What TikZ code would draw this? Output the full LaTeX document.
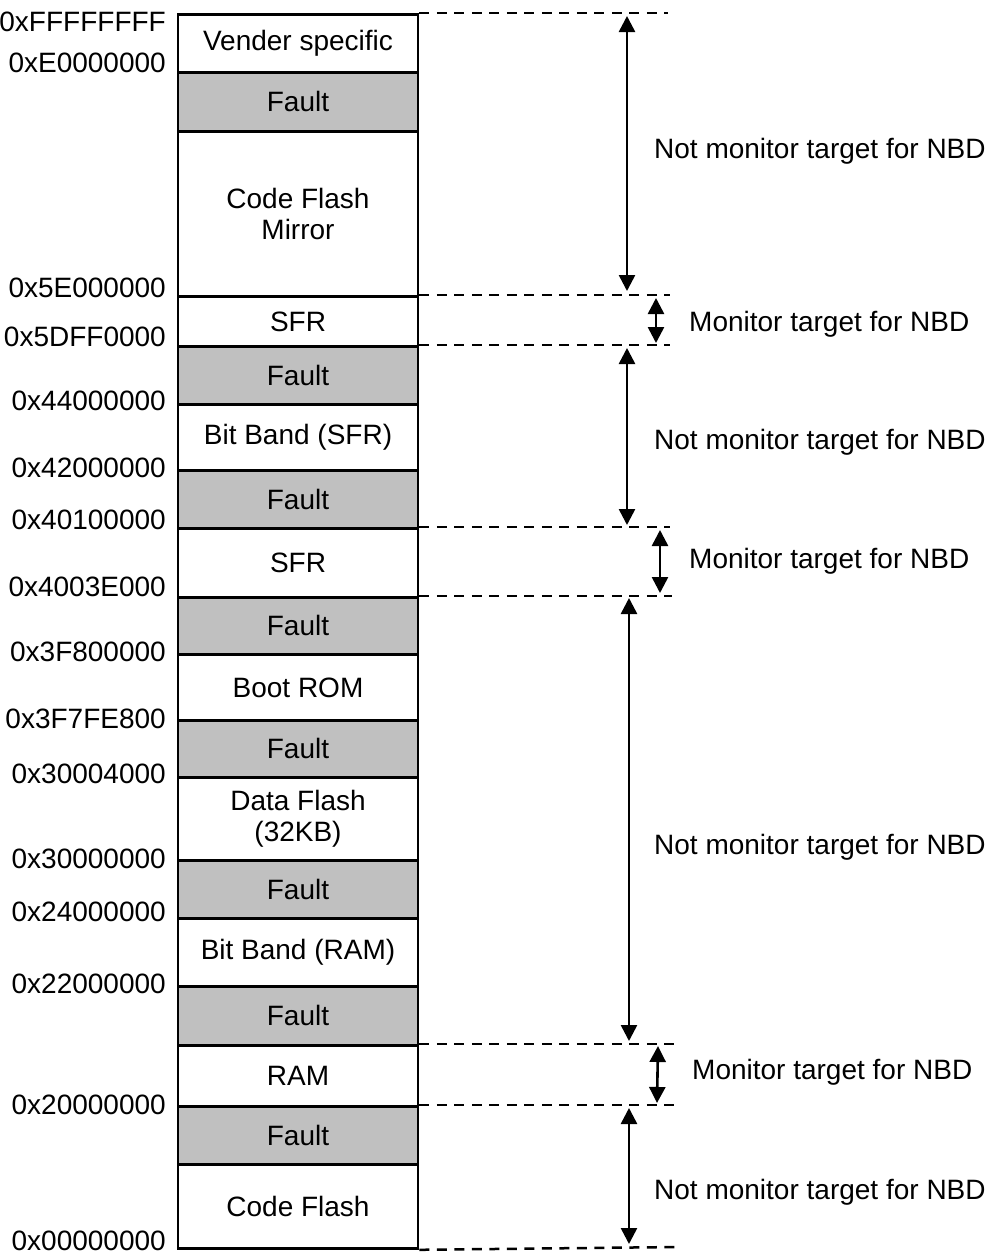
\documentclass[tikz,border=0pt]{standalone}
\usepackage{fontspec}
\setmainfont{Liberation Sans}
\usetikzlibrary{arrows.meta}
\definecolor{faultgray}{HTML}{C0C0C0}
\begin{document}
\begin{tikzpicture}[x=1pt,y=-1pt,
  txt/.style={font=\fontsize{28}{31.5}\selectfont},
  cell/.style={txt, draw=black, line width=2.8pt, minimum width=240pt, inner sep=0pt, align=center, anchor=north, fill=white},
  fault/.style={cell, fill=faultgray},
  addr/.style={txt, anchor=east, inner sep=0pt},
  guide/.style={line width=2.5pt, dash pattern=on 10pt off 7.5pt},
  span/.style={line width=2.6pt, {Triangle[length=16pt,width=16pt]}-{Triangle[length=16pt,width=16pt]}},
  note/.style={txt, anchor=west, inner sep=0pt}]
\useasboundingbox (0,0) rectangle (990,1254);

% memory cells
\node[cell,  minimum height=58pt]  (c1)  at (298,13)   {Vender specific};
\node[fault, minimum height=59pt]  (c2)  at (298,71)   {Fault};
\node[cell,  minimum height=165pt] (c3)  at (298,130)  {Code Flash\\Mirror};
\node[cell,  minimum height=50pt]  (c4)  at (298,295)  {SFR};
\node[fault, minimum height=58pt]  (c5)  at (298,345)  {Fault};
\node[cell,  minimum height=66pt]  (c6)  at (298,403)  {Bit Band (SFR)};
\node[fault, minimum height=58pt]  (c7)  at (298,469)  {Fault};
\node[cell,  minimum height=69pt]  (c8)  at (298,527)  {SFR};
\node[fault, minimum height=57pt]  (c9)  at (298,596)  {Fault};
\node[cell,  minimum height=66pt]  (c10) at (298,653)  {Boot ROM};
\node[fault, minimum height=57pt]  (c11) at (298,719)  {Fault};
\node[cell,  minimum height=83pt]  (c12) at (298,776)  {Data Flash\\(32KB)};
\node[fault, minimum height=58pt]  (c13) at (298,859)  {Fault};
\node[cell,  minimum height=68pt]  (c14) at (298,917)  {Bit Band (RAM)};
\node[fault, minimum height=59pt]  (c15) at (298,985)  {Fault};
\node[cell,  minimum height=61pt]  (c16) at (298,1044) {RAM};
\node[fault, minimum height=58pt]  (c17) at (298,1105) {Fault};
\node[cell,  minimum height=84pt]  (c18) at (298,1163) {Code Flash};

% addresses
\node[addr] (a1)  at (166,22)   {0xFFFFFFFF};
\node[addr] (a2)  at (166,63)   {0xE0000000};
\node[addr] (a3)  at (166,288)  {0x5E000000};
\node[addr] (a4)  at (166,337)  {0x5DFF0000};
\node[addr] (a5)  at (166,401)  {0x44000000};
\node[addr] (a6)  at (166,468)  {0x42000000};
\node[addr] (a7)  at (166,520)  {0x40100000};
\node[addr] (a8)  at (166,587)  {0x4003E000};
\node[addr] (a9)  at (166,652)  {0x3F800000};
\node[addr] (a10) at (166,719)  {0x3F7FE800};
\node[addr] (a11) at (166,774)  {0x30004000};
\node[addr] (a12) at (166,859)  {0x30000000};
\node[addr] (a13) at (166,912)  {0x24000000};
\node[addr] (a14) at (166,984)  {0x22000000};
\node[addr] (a15) at (166,1105) {0x20000000};
\node[addr] (a16) at (166,1241) {0x00000000};

% dashed guides
\coordinate (g1) at (668,13);
\coordinate (g2) at (670,295);
\coordinate (g3) at (670,345);
\coordinate (g4) at (670,527);
\coordinate (g5) at (672,596);
\coordinate (g6) at (674,1044);
\coordinate (g7) at (678,1105);
\coordinate (g8) at (678,1247);
\draw[guide] (c1.north east) -- (g1);
\draw[guide] (c4.north east) -- (g2);
\draw[guide] (c5.north east) -- (g3);
\draw[guide] (c8.north east) -- (g4);
\draw[guide] (c9.north east) -- (g5);
\draw[guide] (c16.north east) -- (g6);
\draw[guide] (c17.north east) -- (g7);
\draw[guide] (c18.south east) -- (g8);

% span arrows
\coordinate (s1a) at (627,16);   \coordinate (s1b) at (627,291);
\coordinate (s2a) at (656,298);  \coordinate (s2b) at (656,343);
\coordinate (s3a) at (627,348);  \coordinate (s3b) at (627,525);
\coordinate (s4a) at (660,530);  \coordinate (s4b) at (660,593);
\coordinate (s5a) at (629,598);  \coordinate (s5b) at (629,1041);
\coordinate (s6a) at (658,1046); \coordinate (s6b) at (657,1103);
\coordinate (s7a) at (629,1108); \coordinate (s7b) at (629,1244);
\draw[span] (s1a) -- (s1b);
\draw[span] (s2a) -- (s2b);
\draw[span] (s3a) -- (s3b);
\draw[span] (s4a) -- (s4b);
\draw[span] (s5a) -- (s5b);
\draw[span] (s6a) -- (s6b);
\draw[span] (s7a) -- (s7b);

% notes
\node[note] (n1) at (654,151)  {Not monitor target for NBD};
\node[note] (n2) at (689,324)  {Monitor target for NBD};
\node[note] (n3) at (654,442)  {Not monitor target for NBD};
\node[note] (n4) at (689,561)  {Monitor target for NBD};
\node[note] (n5) at (654,847)  {Not monitor target for NBD};
\node[note] (n6) at (692,1072) {Monitor target for NBD};
\node[note] (n7) at (654,1192) {Not monitor target for NBD};
\end{tikzpicture}
\end{document}
